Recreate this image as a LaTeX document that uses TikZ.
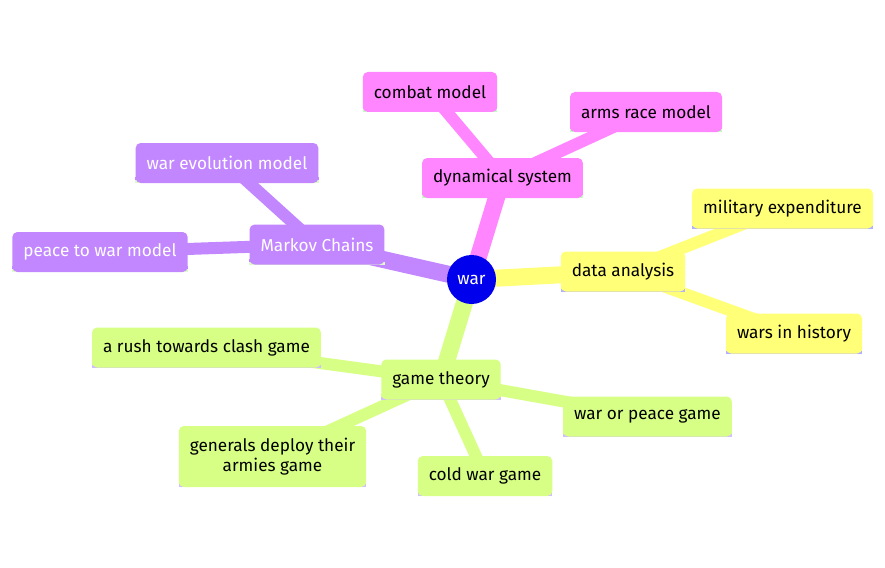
\documentclass[tikz,border=0pt]{standalone}
\usepackage{fontspec}
\setmainfont{Fira Sans}
\usepackage{tikz}
\usetikzlibrary{backgrounds}
\definecolor{mmblue}{HTML}{0000EC}
\definecolor{mmpurple}{HTML}{C286FF}
\definecolor{mmpink}{HTML}{FF86FF}
\definecolor{mmyellow}{HTML}{FFFF78}
\definecolor{mmgreen}{HTML}{D7FF86}
\definecolor{mmpurpleline}{HTML}{DDFAC8}
\definecolor{mmpinkline}{HTML}{BEFFBE}
\definecolor{mmyellowline}{HTML}{B0B0FF}
\definecolor{mmgreenline}{HTML}{D2BEFF}
\tikzset{
  mbox/.style 2 args={rectangle, fill=#1, rounded corners=5pt, minimum height=40pt,
    inner xsep=11pt, inner ysep=0pt, align=center,
    append after command={\pgfextra{
      \fill[#1] ([yshift=6pt]\tikzlastnode.south west) rectangle (\tikzlastnode.south east);
      \fill[#2] ([yshift=3pt]\tikzlastnode.south west) rectangle (\tikzlastnode.south east);
    }}}
}
\tikzstyle{root} = [circle, fill=mmblue, text=white, minimum size=49pt, inner sep=0pt]
\tikzstyle{purplenode} = [mbox={mmpurple}{mmpurpleline}, text=white]
\tikzstyle{pinknode} = [mbox={mmpink}{mmpinkline}]
\tikzstyle{yellownode} = [mbox={mmyellow}{mmyellowline}]
\tikzstyle{greennode} = [mbox={mmgreen}{mmgreenline}]
\tikzstyle{trunk} = [line width=17pt]
\tikzstyle{twig} = [line width=12pt]

\begin{document}
\begin{tikzpicture}[x=1pt, y=-1pt, font=\fontsize{17.2pt}{20pt}\selectfont]
\useasboundingbox (0,0) rectangle (885,567);
\node (war) [root] at (471.5,279.5) {war};
% markov chains branch
\node (markov) [purplenode] at (317,244.5) {Markov Chains};
\node (evolution) [purplenode] at (227,163) {war evolution model};
\node (peacewar) [purplenode] at (100,252) {peace to war model};
% dynamical system branch
\node (dynamic) [pinknode] at (502.5,178) {dynamical system};
\node (combat) [pinknode] at (430,92) {combat model};
\node (armsrace) [pinknode] at (646,112) {arms race model};
% data analysis branch
\node (data) [yellownode] at (623,271.5) {data analysis};
\node (expenditure) [yellownode] at (782.5,208.5) {military expenditure};
\node (history) [yellownode] at (794,333.5) {wars in history};
% game theory branch
\node (game) [greennode] at (441,379.5) {game theory};
\node (rush) [greennode] at (206.5,347.5) {a rush towards clash game};
\node (generals) [greennode, minimum height=61pt] at (272.5,456.5) {generals deploy their\\armies game};
\node (coldwar) [greennode] at (485,476) {cold war game};
\node (warpeace) [greennode] at (647.5,416.5) {war or peace game};

\begin{scope}[on background layer]
\draw [trunk, mmpurple] (war.center) -- (markov.center);
\draw [trunk, mmpink] (war.center) -- (dynamic.center);
\draw [trunk, mmyellow] (war.center) -- (data.center);
\draw [trunk, mmgreen] (war.center) -- (game.center);
\draw [twig, mmpurple] (markov.center) -- (evolution.center);
\draw [twig, mmpurple] (markov.center) -- (peacewar.center);
\draw [twig, mmpink] (dynamic.center) -- (combat.center);
\draw [twig, mmpink] (dynamic.center) -- (armsrace.center);
\draw [twig, mmyellow] (data.center) -- (expenditure.center);
\draw [twig, mmyellow] (data.center) -- (history.center);
\draw [twig, mmgreen] (game.center) -- (rush.center);
\draw [twig, mmgreen] (game.center) -- (generals.center);
\draw [twig, mmgreen] (game.center) -- (coldwar.center);
\draw [twig, mmgreen] (game.center) -- (warpeace.center);
\end{scope}
\end{tikzpicture}
\end{document}
